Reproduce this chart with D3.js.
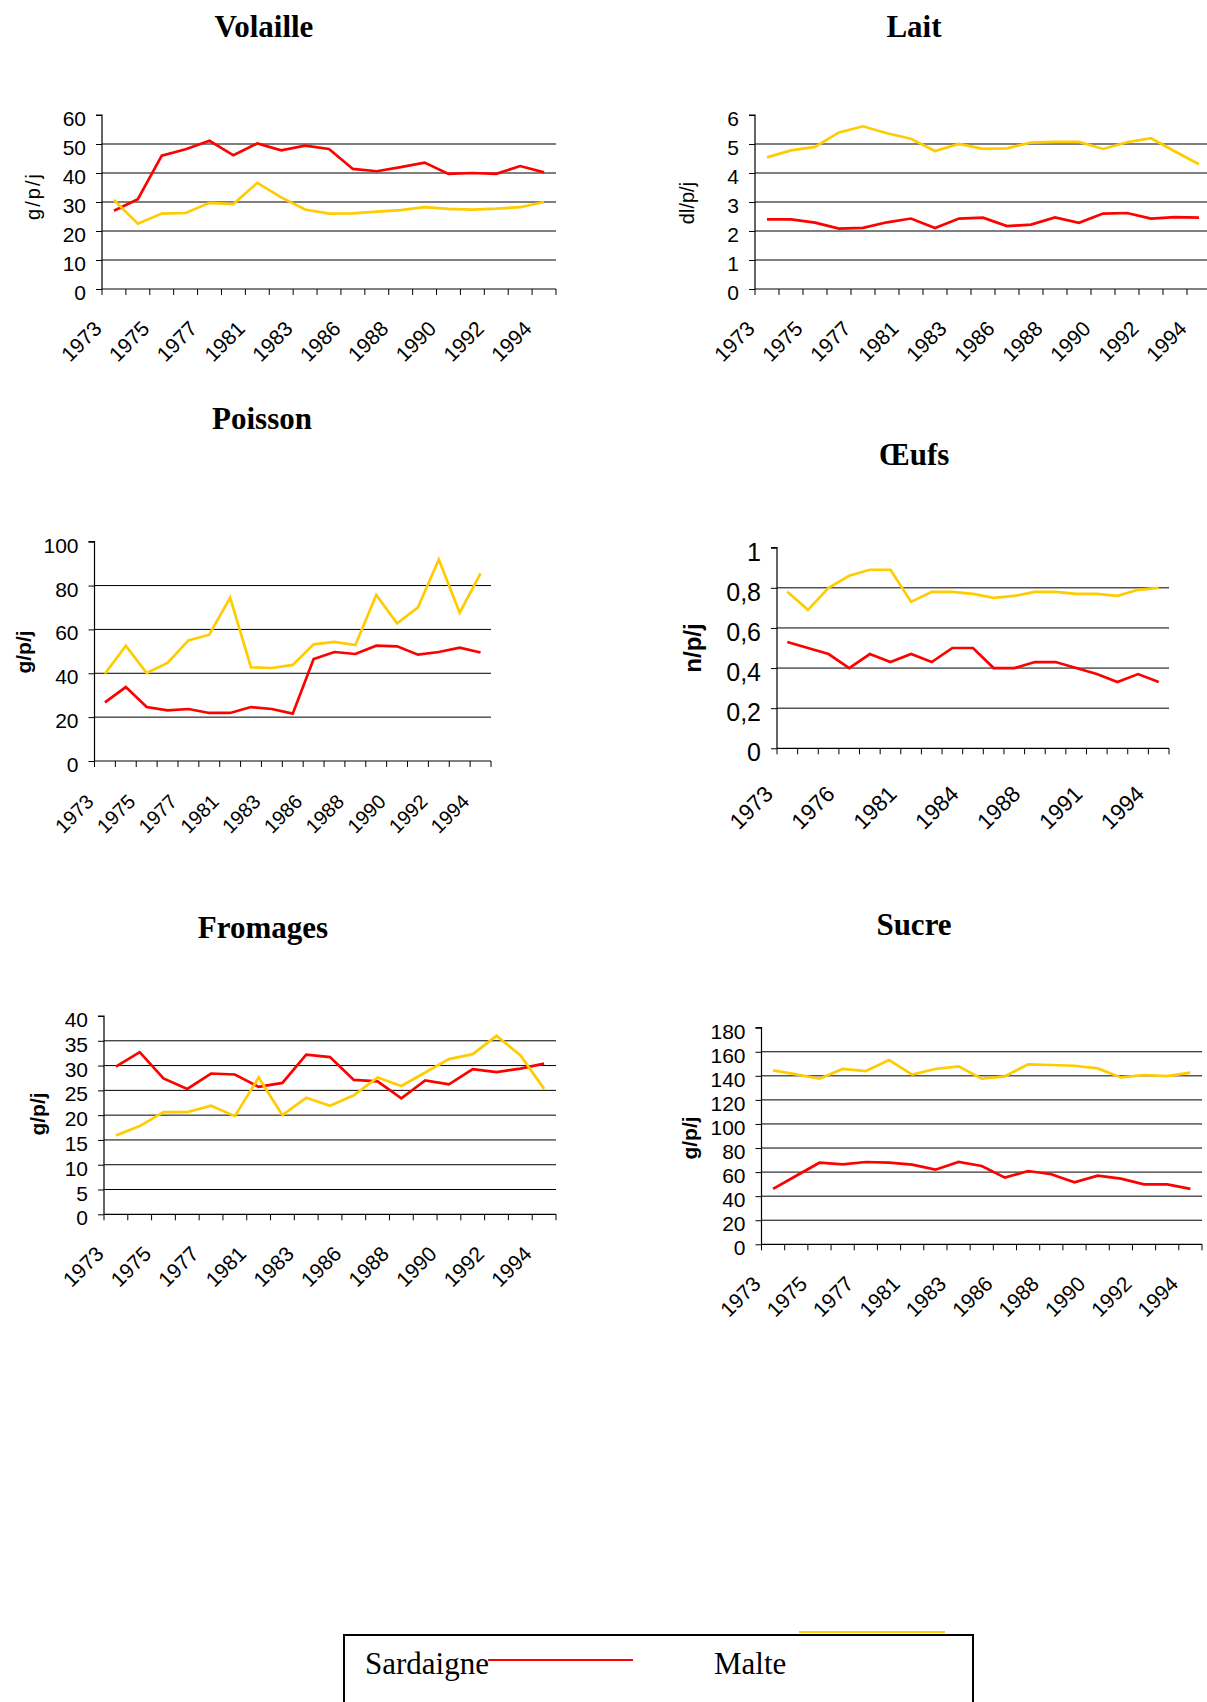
<!DOCTYPE html>
<html>
<head>
<meta charset="utf-8">
<script src="https://cdn.jsdelivr.net/npm/d3@7"></script>
<style>
  html, body { margin: 0; padding: 0; background: #fff; }
  svg { display: block; }
</style>
</head>
<body>
<script>
// ---------- DATA ----------
const categories = ["1973","1974","1975","1976","1977","1979","1981","1982","1983","1984",
                    "1986","1987","1988","1989","1990","1991","1992","1993","1994"];
const seriesNames = ["Sardaigne", "Malte"];

const volailleSardaigne = [27,31,46,48.2,51.1,46.1,50.2,47.8,49.4,48.3,41.4,40.6,42,43.6,39.7,40,39.7,42.4,40.2];
const volailleMalte     = [30.7,22.5,26,26.2,29.7,29.3,36.6,31.6,27.4,26,26.1,26.7,27.2,28.2,27.6,27.4,27.7,28.2,30];

const laitSardaigne = [2.4,2.4,2.29,2.08,2.11,2.3,2.43,2.1,2.43,2.46,2.17,2.22,2.47,2.28,2.6,2.62,2.43,2.48,2.46];
const laitMalte     = [4.54,4.78,4.9,5.4,5.61,5.37,5.18,4.76,5.0,4.83,4.85,5.05,5.07,5.07,4.83,5.06,5.2,4.74,4.3];

const poissonSardaigne = [26.7,33.7,24.6,23.1,23.7,21.9,21.9,24.6,23.7,21.6,46.5,49.7,48.8,52.6,52.3,48.5,49.7,51.7,49.5];
const poissonMalte     = [39.8,52.6,40.1,44.7,55,57.6,74.5,42.7,42.4,43.8,53.2,54.3,52.9,75.7,62.8,70.1,91.9,67.6,85.6];

const oeufsSardaigne = [0.53,0.50,0.47,0.40,0.47,0.43,0.47,0.43,0.50,0.50,0.40,0.40,0.43,0.43,0.40,0.37,0.33,0.37,0.33];
const oeufsMalte     = [0.78,0.69,0.80,0.86,0.89,0.89,0.73,0.78,0.78,0.77,0.75,0.76,0.78,0.78,0.77,0.77,0.76,0.79,0.80];

const fromagesSardaigne = [29.8,32.7,27.4,25.3,28.4,28.2,25.7,26.5,32.2,31.7,27.1,26.8,23.4,27.0,26.2,29.3,28.7,29.4,30.4];
const fromagesMalte     = [15.9,17.8,20.6,20.6,21.9,19.8,27.6,20.0,23.5,21.9,24.0,27.6,25.9,28.6,31.3,32.3,36.0,32.1,25.3];

const sucreSardaigne = [46,57,67.8,66.5,68.4,67.8,66.2,62,68.4,65.1,55.4,60.9,58.2,51.5,57,54.6,49.8,49.8,46];
const sucreMalte     = [144.6,141.2,137.6,145.7,144,153.1,141,145.7,147.9,137.6,139.6,149.5,149,148.4,146.2,138.7,140.7,139.8,142.6];

const volailleTicks = [0,10,20,30,40,50,60];
const laitTicks     = [0,1,2,3,4,5,6];
const poissonTicks  = [0,20,40,60,80,100];
const oeufsTicks    = [0,0.2,0.4,0.6,0.8,1];
const fromagesTicks = [0,5,10,15,20,25,30,35,40];
const sucreTicks    = [0,20,40,60,80,100,120,140,160,180];

const volailleXLabels = ["1973","1975","1977","1981","1983","1986","1988","1990","1992","1994"];
const oeufsXLabels    = ["1973","1976","1981","1984","1988","1991","1994"];

// ---------- LAYOUT ----------
const W = 1207, H = 1702;
const RED = "#FF0000", YELLOW = "#FFCC00";
const SANS = "'Liberation Sans', Arial, sans-serif";
const SERIF = "'Liberation Serif', 'Times New Roman', serif";

const panels = [
  { title: "Volaille", tx: 264, ty: 37, unit: "g/p/j", ux: 33, uy: 196, uw: "normal", us: 20, ls: 2,
    l: 102, t: 115, r: 556, b: 289, ticks: volailleTicks, xl: volailleXLabels,
    s: [volailleSardaigne, volailleMalte], fs: 21, xfs: 21, xoff: 41, xdx: -11 },
  { title: "Lait", tx: 914, ty: 37, unit: "dl/p/j", ux: 687, uy: 203, uw: "normal", us: 20, ls: 0,
    l: 755, t: 115, r: 1211, b: 289, ticks: laitTicks, xl: volailleXLabels,
    s: [laitSardaigne, laitMalte], fs: 21, xfs: 21, xoff: 41, xdx: -11 },
  { title: "Poisson", tx: 262, ty: 429, unit: "g/p/j", ux: 23, uy: 652, uw: "bold", us: 21, ls: 0,
    l: 94.5, t: 541.7, r: 491, b: 761, ticks: poissonTicks, xl: volailleXLabels,
    s: [poissonSardaigne, poissonMalte], fs: 21, xfs: 20, xoff: 42, xdx: -10 },
  { title: "Œufs", tx: 914, ty: 465, unit: "n/p/j", ux: 692, uy: 648, uw: "bold", us: 24, ls: 0,
    l: 777, t: 547.7, r: 1169, b: 748.3, ticks: oeufsTicks, xl: oeufsXLabels,
    s: [oeufsSardaigne, oeufsMalte], fs: 25, xfs: 22.5, xoff: 47, xdx: -13,
    fmt: v => String(v).replace(".", ",") },
  { title: "Fromages", tx: 263, ty: 938, unit: "g/p/j", ux: 37, uy: 1114, uw: "bold", us: 21, ls: 0,
    l: 104, t: 1016, r: 556, b: 1214.3, ticks: fromagesTicks, xl: volailleXLabels,
    s: [fromagesSardaigne, fromagesMalte], fs: 21, xfs: 21, xoff: 41, xdx: -11 },
  { title: "Sucre", tx: 914, ty: 935, unit: "g/p/j", ux: 689, uy: 1138, uw: "bold", us: 21, ls: 0,
    l: 761.5, t: 1027.7, r: 1202, b: 1244.3, ticks: sucreTicks, xl: volailleXLabels,
    s: [sucreSardaigne, sucreMalte], fs: 21, xfs: 21, xoff: 41, xdx: -11 }
];
const colors = [RED, YELLOW];

const svg = d3.select("body").append("svg")
  .attr("width", W).attr("height", H)
  .attr("viewBox", `0 0 ${W} ${H}`);
svg.append("rect").attr("width", W).attr("height", H).attr("fill", "#fff");

panels.forEach(p => {
  const g = svg.append("g");
  const x = d3.scaleBand().domain(categories).range([p.l, p.r]).padding(0);
  const y = d3.scaleLinear().domain([0, d3.max(p.ticks)]).range([p.b, p.t]);
  const bw = x.bandwidth();
  const fmt = p.fmt || (v => String(v));

  // title
  g.append("text").attr("x", p.tx).attr("y", p.ty)
    .attr("text-anchor", "middle")
    .attr("font-family", SERIF).attr("font-weight", "bold").attr("font-size", 31)
    .text(p.title);

  // gridlines (not at 0, not at top)
  g.selectAll(".grid").data(p.ticks.filter(v => v > 0 && v < d3.max(p.ticks)))
    .join("line")
    .attr("x1", p.l).attr("x2", p.r)
    .attr("y1", d => y(d)).attr("y2", d => y(d))
    .attr("stroke", "#000").attr("stroke-width", 1);

  // y axis via d3
  const yAxis = d3.axisLeft(y).tickValues(p.ticks).tickSize(6).tickPadding(10)
    .tickFormat(fmt);
  const ya = g.append("g").attr("transform", `translate(${p.l},0)`).call(yAxis);
  ya.select(".domain").attr("stroke", "#000").attr("stroke-width", 1.2).attr("d", `M-6,${p.t}H0V${p.b}`);
  ya.selectAll(".tick line").attr("stroke", "#000");
  ya.selectAll(".tick text")
    .attr("font-family", SANS).attr("font-size", p.fs).attr("fill", "#000")
    .attr("dy", "0.5em");

  // x axis line
  g.append("line").attr("x1", p.l).attr("x2", p.r).attr("y1", p.b).attr("y2", p.b)
    .attr("stroke", "#000").attr("stroke-width", 1.2);
  // boundary ticks
  const bounds = categories.map(c => x(c)).concat([x(categories[categories.length - 1]) + bw]);
  g.selectAll(".xt").data(bounds).join("line")
    .attr("x1", d => d).attr("x2", d => d)
    .attr("y1", p.b).attr("y2", p.b + 6)
    .attr("stroke", "#000").attr("stroke-width", 1);

  // x labels
  g.selectAll(".xl").data(p.xl).join("text")
    .attr("transform", d => `translate(${x(d) + bw / 2 + p.xdx},${p.b + p.xoff}) rotate(-45)`)
    .attr("text-anchor", "end")
    .attr("font-family", SANS).attr("font-size", p.xfs).attr("fill", "#000")
    .text(d => d);

  // unit label
  g.append("text")
    .attr("transform", `translate(${p.ux},${p.uy}) rotate(-90)`)
    .attr("text-anchor", "middle").attr("dominant-baseline", "central")
    .attr("font-family", SANS).attr("font-weight", p.uw).attr("font-size", p.us)
    .attr("letter-spacing", p.ls)
    .text(p.unit);

  // lines
  const line = d3.line().x((v, i) => x(categories[i]) + bw / 2).y(v => y(v));
  p.s.forEach((vals, k) => {
    g.append("path").datum(vals)
      .attr("d", line)
      .attr("fill", "none").attr("stroke", colors[k]).attr("stroke-width", 2.7)
      .attr("stroke-linejoin", "miter");
  });
});

// ---------- LEGEND ----------
const lg = svg.append("g");
lg.append("rect").attr("x", 344).attr("y", 1635).attr("width", 629).attr("height", 100)
  .attr("fill", "none").attr("stroke", "#000").attr("stroke-width", 2);
lg.append("text").attr("x", 365).attr("y", 1674)
  .attr("font-family", SERIF).attr("font-size", 31).text(seriesNames[0]);
lg.append("line").attr("x1", 488).attr("x2", 633).attr("y1", 1660).attr("y2", 1660)
  .attr("stroke", RED).attr("stroke-width", 2);
lg.append("text").attr("x", 714).attr("y", 1674)
  .attr("font-family", SERIF).attr("font-size", 31).text(seriesNames[1]);
lg.append("line").attr("x1", 799).attr("x2", 945).attr("y1", 1632).attr("y2", 1632)
  .attr("stroke", YELLOW).attr("stroke-width", 2);
</script>
</body>
</html>
